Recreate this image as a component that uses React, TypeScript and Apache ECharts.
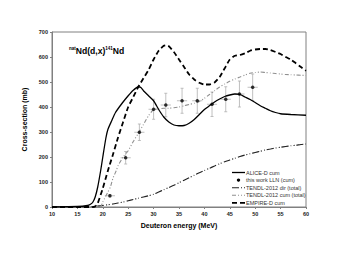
import React, { useEffect, useRef } from "react";
import * as echarts from "echarts";

const xTicks = [10, 15, 20, 25, 30, 35, 40, 45, 50, 55, 60];

const aliceX = [10, 15, 17, 17.5, 18, 18.5, 19, 19.6, 20, 20.6, 21, 21.75, 22.5, 23.8, 25, 26, 27, 27.5, 28, 29, 30, 31, 32, 33, 34, 35, 36, 37, 38, 39, 40, 41, 42, 43, 44, 45, 46, 47, 48, 49, 50, 51, 52, 53, 54, 55, 57, 60];
const aliceY = [0, 2, 6, 10, 18, 40, 80, 148, 200, 275, 310, 345, 378, 415, 445, 467, 481, 478, 465, 445, 425, 390, 360, 340, 328, 325, 326, 335, 350, 370, 390, 405, 420, 432, 442, 448, 452, 450, 440, 430, 418, 405, 395, 385, 378, 373, 370, 367];

const empireX = [10, 15, 18, 18.5, 19, 20, 21, 22, 23, 24, 25, 26, 27, 28, 29, 30, 31, 32, 32.5, 33, 34, 35, 36, 37, 38, 39, 40, 41, 42, 43, 44, 45, 46, 47, 48, 49, 50, 51, 52, 53, 54, 55, 56, 57, 58, 59, 60];
const empireY = [0, 0, 0, 2, 15, 75, 145, 210, 278, 340, 400, 440, 481, 515, 548, 590, 625, 645, 647, 643, 620, 590, 560, 530, 510, 497, 490, 490, 498, 520, 555, 590, 605, 608, 615, 625, 630, 632, 632, 628, 620, 612, 600, 590, 575, 560, 545];

const tendlCumX = [10, 15, 19.5, 20, 21, 21.5, 22, 22.7, 23, 24, 25, 26, 27, 28, 29, 30, 31, 32, 33, 34, 35, 36, 37, 38, 39, 40, 41, 42, 43, 44, 45, 46, 47, 48, 49, 50, 51, 52, 53, 54, 55, 56, 57, 58, 59, 60];
const tendlCumY = [0, 0, 0, 20, 60, 80, 115, 148, 165, 200, 225, 262, 295, 330, 365, 390, 393, 395, 395, 397, 400, 405, 410, 415, 422, 435, 450, 465, 480, 492, 503, 512, 520, 528, 535, 538, 540, 538, 536, 534, 532, 530, 529, 528, 527, 526];

const tendlDirX = [10, 15, 17, 18, 19, 20, 21, 22, 23, 24, 25, 26, 27, 28, 29, 30, 31, 32, 33, 34, 35, 36, 37, 38, 39, 40, 41, 42, 43, 44, 45, 46, 47, 48, 49, 50, 51, 52, 53, 54, 55, 56, 57, 58, 59, 60];
const tendlDirY = [0, 0, 1, 2, 4, 6, 9, 12, 16, 20, 25, 30, 35, 40, 45, 51, 60, 69, 78, 87, 97, 107, 117, 127, 137, 146, 155, 164, 173, 181, 188, 195, 202, 208, 213, 218, 223, 228, 232, 236, 239, 242, 245, 247, 250, 252];

const expX = [21.4, 24.5, 27.2, 30.0, 32.4, 35.6, 38.6, 41.5, 44.2, 46.9, 49.5];
const expY = [45, 197, 299, 391, 408, 425, 425, 411, 431, 452, 479];
const expYErr = [5, 25, 33, 40, 47, 50, 50, 49, 50, 52, 53];
const expXErr = [1, 1, 1, 1, 1, 1, 1, 1, 1, 1, 1];

const legendNames = ["ALICE-D cum", "this work LLN (cum)", "TENDL-2012 dir (total)", "TENDL-2012 cum (total)", "EMPIRE-D cum"];

const zip = (xs: number[], ys: number[]) => xs.map((x, i) => [x, ys[i]]);

export default function App() {
  const ref = useRef<HTMLDivElement>(null);
  useEffect(() => {
    if (!ref.current) return;
    const chart = echarts.init(ref.current, undefined, { renderer: "svg" });
    const font = "Liberation Sans, Arial, sans-serif";
    const legStyles: any[] = [
      { stroke: "#000", lineWidth: 1.3 },
      null,
      { stroke: "#222", lineWidth: 1.1, lineDash: [7, 2, 1, 2, 1, 2] },
      { stroke: "#909090", lineWidth: 1.1, lineDash: [4, 2, 1, 2, 1, 2] },
      { stroke: "#000", lineWidth: 1.8, lineDash: [5, 3] },
    ];
    const legX = 232, legY0 = 172.5, legGap = 7.6;
    const legendGraphics: any[] = [];
    legendNames.forEach((nm, i) => {
      const y = legY0 + i * legGap;
      if (legStyles[i]) {
        legendGraphics.push({ type: "line", shape: { x1: legX, y1: y, x2: legX + 13, y2: y }, style: legStyles[i] });
      } else {
        legendGraphics.push({ type: "circle", shape: { cx: legX + 6.5, cy: y, r: 1.7 }, style: { fill: "#000" } });
      }
      legendGraphics.push({
        type: "text",
        x: legX + 14,
        y: y,
        style: { text: nm, fontSize: 5.5, fill: "#333", fontFamily: font, verticalAlign: "middle", align: "left" },
      });
    });
    chart.setOption({
      animation: false,
      textStyle: { fontFamily: font },
      grid: { left: 52, right: 35, top: 32, bottom: 57, show: true, borderColor: "#808080", borderWidth: 1 },
      title: {
        left: 64,
        top: 41,
        text: "{sup|nat}{b|Nd(d,x)}{sup|141}{b|Nd}",
        textStyle: {
          rich: {
            sup: { fontSize: 4.5, fontWeight: "bold", fontFamily: font, color: "#000", verticalAlign: "top", padding: [0, 0, 5, 0] },
            b: { fontSize: 8.6, fontWeight: "bold", fontFamily: font, color: "#000" },
          },
        },
      },
      graphic: legendGraphics,
      xAxis: {
        type: "value",
        min: 10,
        max: 60,
        interval: 5,
        name: "Deuteron energy (MeV)",
        nameLocation: "middle",
        nameGap: 15,
        nameTextStyle: { fontSize: 7, fontWeight: "bold", color: "#000" },
        axisLine: { lineStyle: { color: "#808080" } },
        axisTick: { show: true, inside: false, length: 2, lineStyle: { color: "#808080" } },
        axisLabel: { fontSize: 5.5, fontWeight: "bold", color: "#222", margin: 4 },
        splitLine: { show: false },
      },
      yAxis: {
        type: "value",
        min: 0,
        max: 700,
        interval: 100,
        name: "Cross-section (mb)",
        nameLocation: "middle",
        nameGap: 20,
        nameTextStyle: { fontSize: 7, fontWeight: "bold", color: "#000" },
        axisLine: { show: true, lineStyle: { color: "#808080" } },
        axisTick: { show: true, inside: false, length: 2, lineStyle: { color: "#808080" } },
        axisLabel: { fontSize: 5.5, fontWeight: "bold", color: "#222", margin: 4 },
        splitLine: { show: false },
      },
      series: [
        {
          name: "ALICE-D cum",
          type: "line",
          symbol: "none",
          smooth: 0.2,
          data: zip(aliceX, aliceY),
          lineStyle: { color: "#000", width: 1.3 },
          z: 5,
        },
        {
          name: "this work LLN (cum)",
          type: "scatter",
          symbol: "circle",
          symbolSize: 3.5,
          data: zip(expX, expY),
          itemStyle: { color: "#000" },
          z: 10,
        },
        {
          name: "errbars",
          type: "custom",
          data: expX.map((x, i) => [x, expY[i], expXErr[i], expYErr[i]]),
          renderItem: (params: any, api: any) => {
            const x = api.value(0), y = api.value(1), dx = api.value(2), dy = api.value(3);
            const pL = api.coord([x - dx, y]);
            const pR = api.coord([x + dx, y]);
            const pT = api.coord([x, y + dy]);
            const pB = api.coord([x, y - dy]);
            const st = { stroke: "#b0b0b0", lineWidth: 0.8 };
            return {
              type: "group",
              children: [
                { type: "line", shape: { x1: pL[0], y1: pL[1], x2: pR[0], y2: pR[1] }, style: st },
                { type: "line", shape: { x1: pT[0], y1: pT[1], x2: pB[0], y2: pB[1] }, style: st },
                { type: "line", shape: { x1: pT[0] - 1.5, y1: pT[1], x2: pT[0] + 1.5, y2: pT[1] }, style: st },
                { type: "line", shape: { x1: pB[0] - 1.5, y1: pB[1], x2: pB[0] + 1.5, y2: pB[1] }, style: st },
              ],
            };
          },
          z: 3,
        },
        {
          name: "TENDL-2012 dir (total)",
          type: "line",
          symbol: "none",
          smooth: 0.2,
          data: zip(tendlDirX, tendlDirY),
          lineStyle: { color: "#222", width: 1.1, type: [7, 2, 1, 2, 1, 2] },
        },
        {
          name: "TENDL-2012 cum (total)",
          type: "line",
          symbol: "none",
          smooth: 0.2,
          data: zip(tendlCumX, tendlCumY),
          lineStyle: { color: "#909090", width: 1.1, type: [4, 2, 1, 2, 1, 2] },
        },
        {
          name: "EMPIRE-D cum",
          type: "line",
          symbol: "none",
          smooth: 0.2,
          data: zip(empireX, empireY),
          lineStyle: { color: "#000", width: 1.8, type: [5, 3] },
        },
      ],
    });
    return () => chart.dispose();
  }, []);
  return <div ref={ref} style={{ width: 341, height: 264, position: "absolute", left: 0, top: 0 }} />;
}
